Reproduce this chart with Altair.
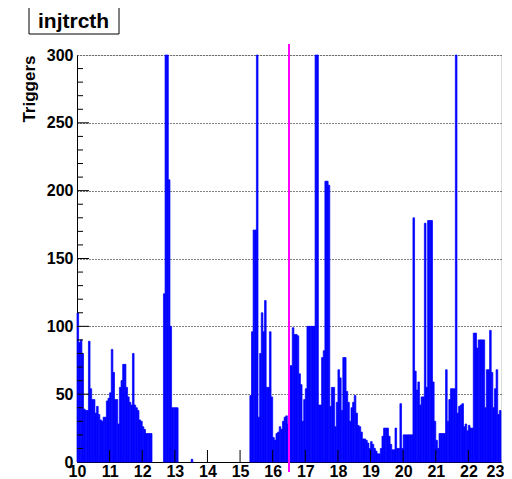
import altair as alt
import pandas as pd

title_text = "injtrcth"
y_title = "Triggers"

# histogram: bins of 0.05 h starting at 10.0 (one list per hour, 20 bins each)
hist_start = 10.0
bin_width = 0.05
counts_10 = [110, 88, 90, 80, 39, 38, 38, 89, 54, 46, 46, 36, 41, 35, 31, 30, 33, 33, 45, 47]
counts_11 = [51, 83, 66, 46, 46, 28, 55, 60, 72, 72, 55, 48, 44, 42, 80, 42, 40, 38, 31, 30]
counts_12 = [26, 24, 21, 21, 21, 21, 0, 0, 0, 0, 0, 0, 0, 124, 400, 400, 208, 100, 40, 40]
counts_13 = [40, 40, 0, 0, 0, 0, 0, 0, 0, 0, 2, 0, 0, 0, 0, 0, 0, 0, 0, 0]
counts_14 = [0, 0, 0, 0, 0, 0, 0, 0, 0, 0, 0, 0, 0, 0, 0, 0, 0, 0, 0, 0]
counts_15 = [0, 0, 0, 0, 0, 0, 49, 96, 171, 171, 400, 33, 80, 110, 96, 119, 55, 55, 96, 48]
counts_16 = [18, 16, 21, 22, 26, 24, 30, 33, 34, 28, 71, 71, 99, 94, 94, 93, 65, 57, 30, 46]
counts_17 = [54, 100, 100, 100, 100, 100, 400, 400, 42, 42, 77, 82, 207, 207, 204, 41, 55, 55, 26, 44]
counts_18 = [68, 62, 38, 77, 77, 52, 44, 30, 40, 44, 49, 36, 27, 26, 22, 17, 17, 16, 14, 10]
counts_19 = [15, 13, 10, 8, 6, 6, 10, 19, 25, 25, 25, 19, 13, 9, 9, 25, 10, 10, 43, 10]
counts_20 = [20, 20, 20, 20, 20, 20, 180, 67, 53, 59, 42, 48, 48, 176, 55, 178, 178, 178, 59, 30]
counts_21 = [16, 10, 21, 21, 21, 21, 68, 30, 46, 54, 54, 54, 400, 36, 41, 42, 43, 26, 28, 23]
counts_22 = [27, 25, 25, 95, 95, 84, 90, 90, 90, 90, 40, 68, 68, 97, 66, 40, 54, 68, 35, 38]

x_ticks = list(range(10, 24))
y_major = [0, 50, 100, 150, 200, 250, 300]
y_minor = [v for v in range(0, 301, 10) if v % 50 != 0]
marker_x = [16.5]

blocks = [counts_10, counts_11, counts_12, counts_13, counts_14, counts_15, counts_16,
          counts_17, counts_18, counts_19, counts_20, counts_21, counts_22]
rows = []
i = 0
for block in blocks:
    for c in block:
        lo = hist_start + i * bin_width
        if c > 0:
            rows.append({"lo": lo, "hi": lo + bin_width, "count": c})
        i += 1
hist = pd.DataFrame(rows)

FONT = "Liberation Sans"
W, H = 424, 407

xscale = alt.Scale(domain=[10, 23], nice=False, zero=False)
yscale = alt.Scale(domain=[0, 300], nice=False, zero=True, clamp=True)

xaxis = alt.Axis(values=x_ticks, format="d", grid=False, ticks=False,
                 domainColor="black", labelColor="black", labelFont=FONT,
                 labelFontWeight="bold", labelFontSize=16, labelPadding=1,
                 labelFlush=False, labelOverlap=False, title=None,
                 labelOffset={"condition": {"test": "datum.value == 23", "value": -6},
                              "value": 0})
yaxis = alt.Axis(values=y_major, grid=True, gridDash=[1, 2], gridColor="black",
                 gridOpacity=1, ticks=False, domainColor="black",
                 labelColor="black", labelFont=FONT, labelFontWeight="bold",
                 labelFontSize=16, labelPadding=4, labelFlush=False,
                 labelOverlap=False,
                 title=y_title, titleFont=FONT, titleFontWeight="bold",
                 titleFontSize=17, titleColor="black", titleAngle=270,
                 titleAlign="right", titleBaseline="alphabetic",
                 titleX=-43, titleY=0)

bars = alt.Chart(hist).mark_rect(color="#0000ff", stroke="#0000ff", strokeWidth=0.7).encode(
    x=alt.X("lo:Q", scale=xscale, axis=xaxis),
    x2="hi:Q",
    y=alt.Y("count:Q", scale=yscale, axis=yaxis),
    y2=alt.datum(0),
)

ymaj = alt.Chart(pd.DataFrame({"v": y_major[1:-1]})).mark_rule(color="black").encode(
    y=alt.Y("v:Q", scale=yscale, axis=yaxis), x=alt.value(0), x2=alt.value(12))
ymin = alt.Chart(pd.DataFrame({"v": y_minor})).mark_rule(color="black").encode(
    y=alt.Y("v:Q", scale=yscale, axis=yaxis), x=alt.value(0), x2=alt.value(6))
xmaj = alt.Chart(pd.DataFrame({"v": x_ticks[1:-1]})).mark_rule(color="black").encode(
    x=alt.X("v:Q", scale=xscale, axis=xaxis), y=alt.value(H), y2=alt.value(H - 12))

marker = alt.Chart(pd.DataFrame({"m": marker_x})).mark_rule(color="#ff00ff", strokeWidth=2).encode(
    x=alt.X("m:Q", scale=xscale, axis=xaxis), y=alt.value(-11), y2=alt.value(H + 10))

tdf = pd.DataFrame({"t": [title_text]})
tbox = alt.Chart(tdf).mark_rect(fill="white", stroke="black", strokeWidth=1).encode(
    x=alt.value(-48), x2=alt.value(42), y=alt.value(-48), y2=alt.value(-21))
ttext = alt.Chart(tdf).mark_text(align="left", baseline="alphabetic", font=FONT,
                                 fontWeight="bold", fontSize=21, color="black").encode(
    text="t:N", x=alt.value(-39), y=alt.value(-27))

chart = alt.layer(bars, ymaj, ymin, xmaj, marker, tbox, ttext).properties(
    width=W, height=H,
    autosize=alt.AutoSizeParams(type="none"),
    padding={"left": 69, "top": 47, "right": 3, "bottom": 17},
).configure_view(stroke="black", strokeWidth=1).configure(background="white")

chart.save("out.html", embed_options={"renderer": "svg", "actions": False})
